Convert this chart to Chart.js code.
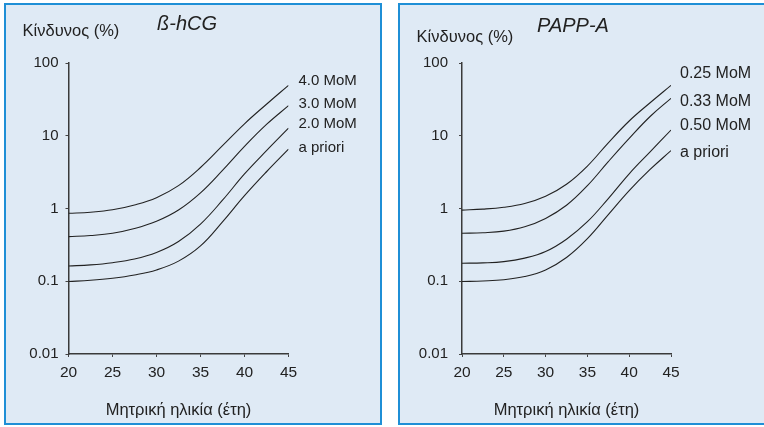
<!DOCTYPE html>
<html>
<head>
<meta charset="utf-8">
<script src="https://cdn.jsdelivr.net/npm/chart.js@4.4.1/dist/chart.umd.min.js"></script>
<style>
  html, body { margin:0; padding:0; background:#ffffff; width:764px; height:427px; overflow:hidden; position:relative; font-family:"Liberation Sans", Arial, sans-serif; }
  .panel { position:absolute; box-sizing:border-box; background:#dfeaf5; border:2.5px solid #1f8fd6; }
  canvas { position:absolute; top:0; }
  .txt { position:absolute; color:#222; white-space:nowrap; transform:translate(-50%,-50%); line-height:1; }
</style>
</head>
<body>
<div class="panel" style="left:4px; top:3px; width:378px; height:422px;"></div>
<div class="panel" style="left:398px; top:3px; width:420px; height:422px;"></div>
<canvas id="c1" width="390" height="427" style="left:0px;"></canvas>
<canvas id="c2" width="374" height="427" style="left:390px;"></canvas>
<div class="txt" style="left:71px; top:30px; font-size:16.5px;">Κίνδυνος (%)</div>
<div class="txt" style="left:187px; top:23px; font-size:20px; font-style:italic;">ß-hCG</div>
<div class="txt" style="left:465px; top:36px; font-size:16.5px;">Κίνδυνος (%)</div>
<div class="txt" style="left:573px; top:25px; font-size:20px; font-style:italic;">PAPP-A</div>
<script>
// ---- data ----
const ages = [20, 22.5, 25, 27.5, 30, 32.5, 35, 37.5, 40, 42.5, 45];
const xTicks = [20, 25, 30, 35, 40, 45];
const yTicks = [0.01, 0.1, 1, 10, 100];
const yTickLabels = ['0.01', '0.1', '1', '10', '100'];
const xTitle = 'Μητρική ηλικία (έτη)';

const hcgLabels = ['4.0 MoM', '3.0 MoM', '2.0 MoM', 'a priori'];
const hcg40 = [0.86, 0.89, 0.96, 1.12, 1.41, 2.06, 3.66, 7.3, 14.6, 27.1, 49.3];
const hcg30 = [0.41, 0.425, 0.456, 0.53, 0.667, 0.953, 1.64, 3.34, 7.14, 14.3, 25.9];
const hcg20 = [0.162, 0.168, 0.18, 0.202, 0.248, 0.351, 0.61, 1.30, 2.99, 6.24, 12.7];
const hcgPrior = [0.099, 0.103, 0.11, 0.122, 0.143, 0.189, 0.306, 0.655, 1.50, 3.2, 6.55];

const pappLabels = ['0.25 MoM', '0.33 MoM', '0.50 MoM', 'a priori'];
const papp025 = [0.95, 0.98, 1.04, 1.17, 1.47, 2.15, 3.83, 8.0, 15.96, 28.4, 49.3];
const papp033 = [0.456, 0.465, 0.489, 0.561, 0.731, 1.107, 2.06, 4.41, 9.2, 18.4, 32.7];
const papp050 = [0.177, 0.179, 0.186, 0.208, 0.256, 0.378, 0.658, 1.37, 3.0, 6.0, 11.97];
const pappPrior = [0.099, 0.101, 0.105, 0.116, 0.143, 0.212, 0.385, 0.824, 1.76, 3.44, 6.25];

// ---- style (not data) ----
const FONT = '"Liberation Sans", Arial, sans-serif';
const INK = '#222222';

const endLabelPlugin = {
  id: 'endLabels',
  afterDatasetsDraw(chart, args, opts) {
    const ctx = chart.ctx;
    ctx.save();
    ctx.font = opts.size + 'px ' + FONT;
    ctx.fillStyle = INK;
    ctx.textAlign = 'left';
    ctx.textBaseline = 'middle';
    chart.data.datasets.forEach((ds, i) => {
      const meta = chart.getDatasetMeta(i);
      const pt = meta.data[meta.data.length - 1];
      ctx.fillText(ds.label, pt.x + opts.dx, pt.y + opts.dy[i]);
    });
    ctx.restore();
  }
};

function makeChart(id, labels, series, geom) {
  const datasets = series.map((vals, i) => ({
    label: labels[i],
    data: ages.map((a, j) => ({ x: a, y: vals[j] })),
    borderColor: INK,
    borderWidth: 1.1,
    pointRadius: 0,
    fill: false,
    tension: 0.4
  }));
  return new Chart(document.getElementById(id), {
    type: 'line',
    data: { datasets },
    plugins: [endLabelPlugin],
    options: {
      responsive: false,
      animation: false,
      events: [],
      layout: { padding: { left: 0, top: geom.top, right: geom.right, bottom: 0 } },
      plugins: {
        legend: { display: false },
        tooltip: { enabled: false },
        title: { display: false },
        endLabels: { dx: geom.dx, dy: geom.dy, size: geom.lsize }
      },
      scales: {
        x: {
          type: 'linear',
          min: 20, max: 45,
          afterBuildTicks: s => { s.ticks = xTicks.map(v => ({ value: v })); },
          afterFit: s => { s.height = geom.xh; },
          ticks: { color: INK, font: { family: FONT, size: 15.5 }, padding: 6, maxRotation: 0,
                   callback: v => String(v) },
          grid: { display: true, drawOnChartArea: false, drawTicks: true, tickLength: 3, color: '#444', lineWidth: 1 },
          border: { display: true, color: '#3a3a3a', width: 1.5 },
          title: { display: true, text: xTitle, color: INK, font: { family: FONT, size: 16.5 }, padding: { top: 0, bottom: 7 } }
        },
        y: {
          type: 'logarithmic',
          min: 0.01, max: 100,
          afterBuildTicks: s => { s.ticks = yTicks.map(v => ({ value: v })); },
          afterFit: s => { s.width = geom.yw; },
          ticks: { color: INK, font: { family: FONT, size: 15 }, padding: geom.ypad,
                   callback: (v) => yTickLabels[yTicks.indexOf(v)] },
          grid: { display: true, drawOnChartArea: false, drawTicks: true, tickLength: 3, color: '#444', lineWidth: 1 },
          border: { display: true, color: '#3a3a3a', width: 1.5 }
        }
      }
    }
  });
}

makeChart('c1', hcgLabels, [hcg40, hcg30, hcg20, hcgPrior],
  { top: 63, right: 390 - 288.5, xh: 427 - 354, yw: 68.5, ypad: 7, dx: 10, dy: [-4, -2, -4, -1], lsize: 15 });
makeChart('c2', pappLabels, [papp025, papp033, papp050, pappPrior],
  { top: 63, right: 374 - 281, xh: 427 - 354, yw: 72, ypad: 11, dx: 9, dy: [-12, 3, -4, 2], lsize: 16 });
</script>
</body>
</html>
